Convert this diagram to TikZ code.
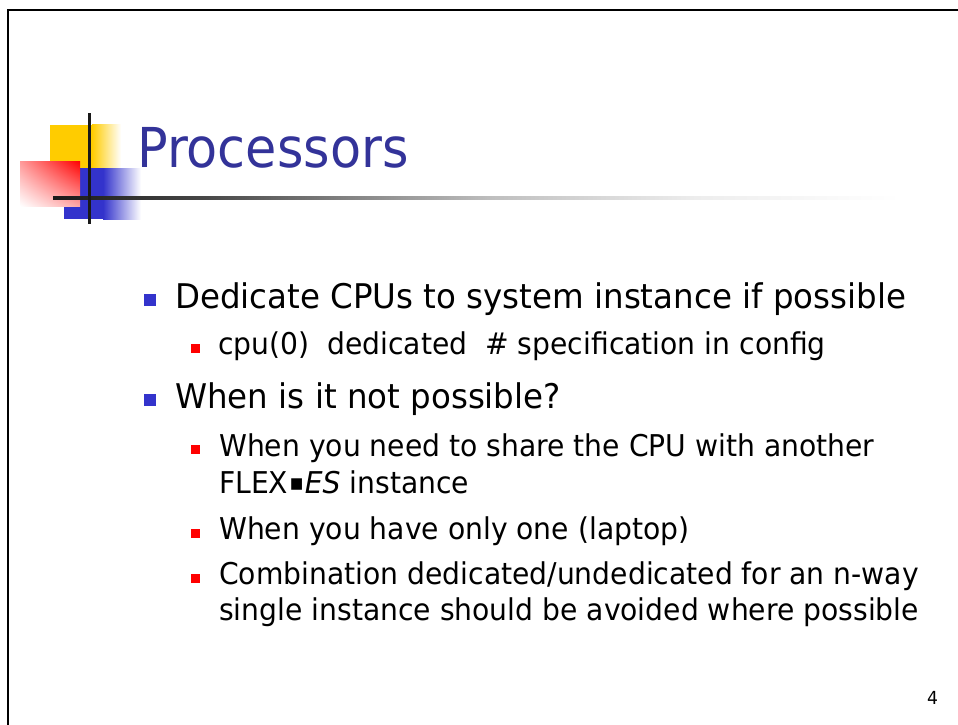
\documentclass[tikz,border=0pt]{standalone}
\usepackage{fontspec}
\usetikzlibrary{shadings}
\setmainfont{DejaVu Sans}
\newfontfamily\corpo[FakeStretch=0.955]{DejaVu Sans}
\newfontfamily\corposotto[FakeStretch=0.94]{DejaVu Sans}
\newfontfamily\titolo[FakeStretch=0.925]{DejaVu Sans}

\definecolor{blutitolo}{RGB}{51,51,153}
\definecolor{bluquad}{RGB}{51,51,204}
\definecolor{giallo}{RGB}{255,204,0}

\pgfdeclarehorizontalshading{filo}{100bp}{color(0bp)=(black!90); color(25bp)=(black!90);
  color(34bp)=(black!72); color(51bp)=(black!25); color(63bp)=(black!7); color(75bp)=(white); color(100bp)=(white)}

\tikzset{
  voce/.style={anchor=base west, inner sep=0pt, font=\corpo\fontsize{34}{40}\selectfont},
  sottovoce/.style={anchor=base west, inner sep=0pt, font=\corposotto\fontsize{30}{36}\selectfont},
  quadblu/.style={fill=bluquad, minimum size=12pt, inner sep=0pt},
  quadrosso/.style={fill=red, minimum size=9pt, inner sep=0pt}
}

\begin{document}
\begin{tikzpicture}[x=1pt,y=-1pt]
            \useasboundingbox (0,0) rectangle (958,725);

            %cornice
            \draw[line width=2.5pt] (8,725) -- (8,10) -- (958,10);

            %logo
            \fill[giallo] (50,125) rectangle (93,168);
            \shade[left color=giallo, right color=white] (92,124) rectangle (121,168);
            \fill[bluquad] (64,168) rectangle (104,219);
            \shade[left color=bluquad, right color=white] (103,168) rectangle (141,219);
            \shade[upper right=red, lower left=white, upper left=red!40, lower right=red!35] (20,161) rectangle (80,206);
            \fill[shading=filo] (53,196.2) rectangle (900,199.8);
            \draw[line width=3pt, black!90] (89,113) -- (89,224);

            %titolo
            \node[anchor=base west, inner sep=0pt, text=blutitolo, font=\titolo\fontsize{55}{60}\selectfont] (titolo) at (137,167) {Processors};

            %elenco
            \node[quadblu] (b1) at (150,300) {};
            \node[voce] (t1) at (175,308) {Dedicate CPUs to system instance if possible};
            \node[quadrosso] (b2) at (195.5,348.5) {};
            \node[sottovoce] (t2) at (218,354) {cpu(0)~~dedicated~~\#~specification in config};
            \node[quadblu] (b3) at (150,400) {};
            \node[voce] (t3) at (175,408) {When is it not possible?};
            \node[quadrosso] (b4) at (195.5,449) {};
            \node[sottovoce] (t4) at (219,456) {When you need to share the CPU with another};
            \node[sottovoce] (t5) at (219,493) {FLEX\hspace{1pt}\raisebox{2.5pt}{\fontsize{23}{23}\selectfont ▪}\hspace{1pt}\textit{ES} instance};
            \node[quadrosso] (b5) at (195.5,533) {};
            \node[sottovoce] (t6) at (219,539) {When you have only one (laptop)};
            \node[quadrosso] (b6) at (195.5,578.5) {};
            \node[sottovoce] (t7) at (219,584) {Combination dedicated/undedicated for an n-way};
            \node[sottovoce] (t8) at (219,620) {single instance should be avoided where possible};

            %numero pagina
            \node[anchor=base west, inner sep=0pt, font=\corpo\fontsize{18}{20}\selectfont] (pagina) at (927,704) {4};
        \end{tikzpicture}
\end{document}
